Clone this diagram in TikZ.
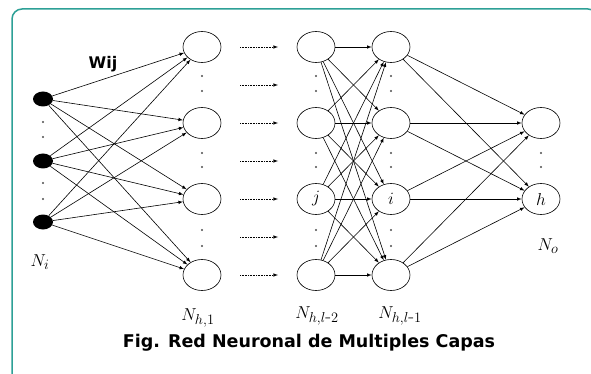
\documentclass[tikz,border=0pt]{standalone}
\usepackage{fontspec}
\newfontfamily\rotulo{DejaVu Sans}
\usetikzlibrary{shapes.geometric}
\definecolor{marco}{RGB}{45,160,150}

\tikzset{
  neurona/.style={ellipse,draw,line width=0.6pt,minimum width=38pt,minimum height=31pt,inner sep=0pt,font=\fontsize{17}{19}\selectfont},
  entrada/.style={ellipse,fill=black,minimum width=20pt,minimum height=15pt,inner sep=0pt},
  peso/.style={-latex,line width=0.6pt},
  salto/.style={densely dotted,-latex,line width=0.6pt},
  etiqueta/.style={font=\fontsize{19}{22}\selectfont},
}

\begin{document}
\begin{tikzpicture}[x=1pt,y=-1pt]
\useasboundingbox (0,0) rectangle (591,374);
\clip (0,0) rectangle (591,374);
\draw[marco,line width=1.5pt,rounded corners=10pt] (12,390) -- (12,9) -- (598,9) -- (598,390);

% capa de entrada
\foreach \n/\y in {1/99,2/161,3/222}
  \node[entrada] (e\n) at (43,\y) {};

% capas ocultas
\foreach \n/\y/\tb/\tc in {1/47//,2/123//,3/199/j/i,4/275//} {
  \node[neurona] (a\n) at (202,\y) {};
  \node[neurona] (b\n) at (316,\y) {$\tb$};
  \node[neurona] (c\n) at (391,\y) {$\tc$};
}

% capa de salida
\node[neurona] (s1) at (541,123) {};
\node[neurona] (s2) at (541,199) {$h$};

% pesos
\foreach \i in {1,2,3}
  \foreach \k in {1,...,4}
    \draw[peso] (e\i) -- (a\k);
\foreach \i in {1,...,4}
  \foreach \k in {1,...,4}
    \draw[peso] (b\i) -- (c\k);
\foreach \i in {1,...,4}
  \foreach \k in {1,2}
    \draw[peso] (c\i) -- (s\k);

% capas intermedias omitidas
\foreach \y in {47,85,123,161,199,237,275} {
  \coordinate (d\y) at (240,\y);
  \coordinate (f\y) at (278,\y);
  \draw[salto] (d\y) -- (f\y);
}

% puntos suspensivos
\foreach \y in {122,137,183,199}
  \fill[black!70] (43,\y) circle (1.2pt);
\foreach \x in {202,316,391}
  \foreach \y in {76,91,153,167,230,246}
    \fill[black!70] (\x,\y) circle (1.2pt);
\foreach \y in {153,167}
  \fill[black!70] (541,\y) circle (1.2pt);

% rotulos
\node (wij) at (103,64) {\rotulo\bfseries\fontsize{16}{18}\selectfont Wij};
\node[etiqueta] (ni) at (40,262) {$N_i$};
\node[etiqueta] (nh1) at (198,318) {$N_{h,1}$};
\node[etiqueta] (nl2) at (317,316) {$N_{h,l\mbox{-}2}$};
\node[etiqueta] (nl1) at (400,316) {$N_{h,l\mbox{-}1}$};
\node[etiqueta] (no) at (548,246) {$N_o$};
\node (fig) at (309,343) {\rotulo\bfseries\fontsize{17.5}{20}\selectfont Fig. Red Neuronal de Multiples Capas};
\end{tikzpicture}
\end{document}
